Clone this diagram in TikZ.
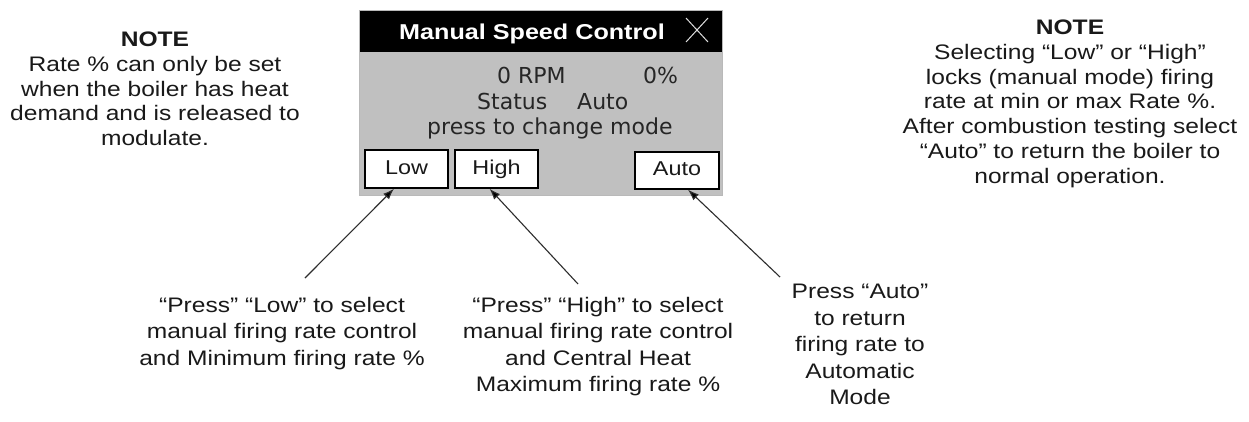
\documentclass[tikz,border=0pt]{standalone}
\usepackage{fontspec}
\setmainfont{Liberation Sans}[FakeStretch=1.17]
\newfontfamily\panelfont{DejaVu Sans}
\usetikzlibrary{arrows.meta}
\definecolor{panelgray}{RGB}{192,192,192}
\definecolor{txt}{RGB}{25,25,25}
\definecolor{linegray}{RGB}{45,45,45}
\begin{document}
\begin{tikzpicture}[x=1pt,y=-1pt,
  note/.style={align=center, inner sep=0pt, anchor=north, text=txt, font=\fontsize{21}{24.7}\selectfont},
  callout/.style={align=center, inner sep=0pt, anchor=north, text=txt, font=\fontsize{21}{26.5}\selectfont},
  btn/.style={draw=black, line width=1.4pt, fill=white, minimum width=83pt, minimum height=38pt, inner sep=0pt, text=txt, text height=14pt, text depth=4pt, font=\fontsize{20}{24}\selectfont},
  ptext/.style={inner sep=0pt, anchor=base west, text=black!85, font=\panelfont\fontsize{22}{26}\selectfont},
  closex/.style={draw=gray!25, line width=1pt},
  pointer/.style={draw=linegray, line width=1.1pt, -{Latex[length=11pt,width=8pt,fill=black]}}
]
\useasboundingbox (0,0) rectangle (1249,421);
\fill[white] (0,0) rectangle (1249,421);

% notes
\node[note] (leftnote) at (155,32) {\textbf{NOTE}\\Rate \% can only be set\\when the boiler has heat\\demand and is released to\\modulate.};
\node[note] (rightnote) at (1070,20) {\textbf{NOTE}\\Selecting “Low” or “High”\\locks (manual mode) firing\\rate at min or max Rate \%.\\After combustion testing select\\“Auto” to return the boiler to\\normal operation.};

% panel
\node[fill=black, anchor=north west, minimum width=363pt, minimum height=42pt, inner sep=0pt] (titlebar) at (359,10) {};
\node[fill=panelgray, anchor=north west, minimum width=363pt, minimum height=143pt, inner sep=0pt] (body) at (359,52) {};
\draw[gray!55, line width=0.6pt] (titlebar.north west) rectangle (body.south east);
\node[anchor=base, inner sep=0pt, text=white, font=\bfseries\fontsize{21.5}{26}\selectfont] (title) at (532,39) {Manual Speed Control};
\coordinate (xa) at (686,18);
\coordinate (xb) at (708,42);
\coordinate (xc) at (708,18);
\coordinate (xd) at (686,42);
\draw[closex] (xa) -- (xb);
\draw[closex] (xc) -- (xd);

\node[ptext] (rpm) at (497,83) {0 RPM};
\node[ptext] (pct) at (643,83) {0\%};
\node[ptext] (status) at (477,109) {Status};
\node[ptext] (mode) at (577,109) {Auto};
\node[ptext] (press) at (427,134) {press to change mode};

\node[btn] (low) at (406.5,169) {Low};
\node[btn] (high) at (496.5,169) {High};
\node[btn, minimum width=84pt, minimum height=37pt] (autobtn) at (677,170.5) {Auto};

% callouts
\node[callout] (lowtext) at (282,297) {“Press” “Low” to select\\manual firing rate control\\and Minimum firing rate \%};
\node[callout] (hightext) at (598,297) {“Press” “High” to select\\manual firing rate control\\and Central Heat\\Maximum firing rate \%};
\node[callout] (autotext) at (860,284) {Press “Auto”\\to return\\firing rate to\\Automatic\\Mode};

\coordinate (lowfrom) at (305,278);
\coordinate (highfrom) at (578,284);
\coordinate (autofrom) at (780,277);
\draw[pointer] (lowfrom) -- ([xshift=-12.5pt]low.south);
\draw[pointer] (highfrom) -- ([xshift=-7pt]high.south);
\draw[pointer] (autofrom) -- ([xshift=11pt]autobtn.south);
\end{tikzpicture}
\end{document}
